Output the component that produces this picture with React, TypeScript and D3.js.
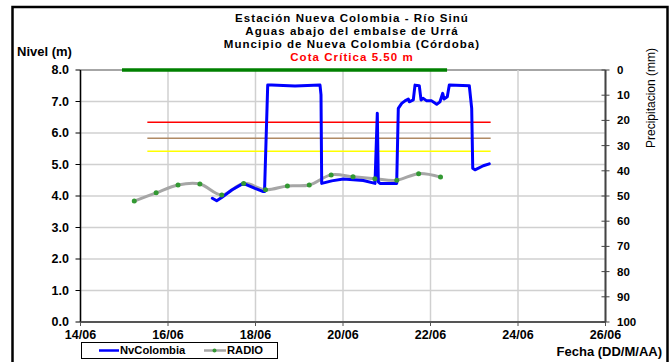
import React from "react";
import * as d3 from "d3";

const YEAR = "2012";
const xTickLabels = ["14/06", "16/06", "18/06", "20/06", "22/06", "24/06", "26/06"];
const levelTicks = [0, 1, 2, 3, 4, 5, 6, 7, 8];
const precipTicks = [0, 10, 20, 30, 40, 50, 60, 70, 80, 90, 100];

const titleLines = [
  "Estación Nueva Colombia  - Río Sinú",
  "Aguas abajo del embalse de Urrá",
  "Muncipio de Nueva Colombia  (Córdoba)",
];
const criticalLabel = "Cota Crítica 5.50 m";

// NvColombia level series (date, m)
const nvTimes = [
  "17/06 00:19", "17/06 02:43", "17/06 05:27", "17/06 10:57", "17/06 17:18", "17/06 23:44",
  "18/06 04:16", "18/06 04:57", "18/06 06:42", "18/06 08:53", "18/06 21:40", "19/06 11:23",
  "19/06 11:56", "19/06 12:19", "19/06 17:48", "20/06 00:10", "20/06 11:08", "20/06 17:33",
  "20/06 18:49", "20/06 19:22", "20/06 20:18", "21/06 05:27", "21/06 06:20", "21/06 08:12",
  "21/06 10:00", "21/06 11:50", "21/06 12:22", "21/06 14:34", "21/06 15:30", "21/06 17:51",
  "21/06 18:48", "21/06 20:02", "21/06 21:55", "22/06 00:39", "22/06 03:24", "22/06 05:12",
  "22/06 06:42", "22/06 07:25", "22/06 09:13", "22/06 10:19", "22/06 21:17", "22/06 22:36",
  "22/06 23:10", "23/06 00:24", "23/06 04:58", "23/06 08:15",
];
const nvValues = [
  3.93, 3.85, 3.95, 4.19, 4.40, 4.24,
  4.14, 4.14, 7.52, 7.52, 7.49, 7.52,
  7.21, 4.40, 4.48, 4.54, 4.49, 4.40,
  6.63, 4.45, 4.40, 4.40, 6.78, 6.94,
  7.02, 7.08, 6.99, 7.05, 7.52, 7.50,
  7.05, 7.10, 7.02, 7.02, 6.91, 6.99,
  7.26, 7.08, 7.15, 7.52, 7.50, 6.78,
  4.88, 4.83, 4.96, 5.02,
];

// RADIO series
const radioTimes = [
  "15/06 05:30", "15/06 17:30", "16/06 05:30", "16/06 17:30", "17/06 05:30",
  "17/06 17:30", "18/06 05:30", "18/06 17:30", "19/06 05:30", "19/06 17:30",
  "20/06 05:30", "20/06 17:30", "21/06 05:30", "21/06 17:30", "22/06 05:30",
];
const radioValues = [3.84, 4.10, 4.35, 4.38, 4.03, 4.40, 4.20, 4.32, 4.35, 4.67, 4.61, 4.55, 4.50, 4.71, 4.60];

// Precipitation (mm)
const precipTimes = ["14/06 22:45", "16/06 12:00", "18/06 12:00", "20/06 12:00", "22/06 09:05"];
const precipValues = [0, 0, 0, 0, 0];

// Reference levels
const refStart = "15/06 12:40";
const refEnd = "23/06 09:00";
const refLevels = [6.34, 5.83, 5.42];
const refColors = ["#ff0000", "#b08a64", "#ffff00"];

const parse = d3.timeParse("%d/%m/%Y %H:%M");
const pd = (s: string) => parse(s.slice(0, 5) + "/" + YEAR + " " + s.slice(6)) as Date;
const pday = (s: string) => parse(s + "/" + YEAR + " 00:00") as Date;

const FONT = "'Liberation Sans', Arial, sans-serif";

export default function App() {
  const L = 80.5, R = 605.5, T = 70, B = 322;
  const x = d3.scaleTime().domain([pday(xTickLabels[0]), pday(xTickLabels[xTickLabels.length - 1])]).range([L, R]);
  const y = d3.scaleLinear().domain([0, 8]).range([B, T]);
  const yp = d3.scaleLinear().domain([0, 100]).range([T, B]);

  const nv = nvTimes.map((t, i) => ({ d: pd(t), v: nvValues[i] }));
  const radio = radioTimes.map((t, i) => ({ d: pd(t), v: radioValues[i] }));
  const precip = precipTimes.map((t, i) => ({ d: pd(t), v: precipValues[i] }));

  const lineNv = d3.line<{ d: Date; v: number }>().x((p) => x(p.d)).y((p) => y(p.v));
  const lineRadio = d3.line<{ d: Date; v: number }>().x((p) => x(p.d)).y((p) => y(p.v)).curve(d3.curveCatmullRom);
  const linePrecip = d3.line<{ d: Date; v: number }>().x((p) => x(p.d)).y((p) => yp(p.v));

  const cx = 352;

  return (
    <svg width={672} height={362} style={{ position: "absolute", left: 0, top: 0, background: "#fff" }} fontFamily={FONT}>
      <rect x={12.5} y={7} width={655} height={370} fill="none" stroke="#000" strokeWidth={2.5} />
      {/* titles */}
      {titleLines.map((t, i) => (
        <text key={i} x={cx} y={22 + i * 13} textAnchor="middle" fontSize={11.5} letterSpacing={1.05} fontWeight="bold" fill="#000">{t}</text>
      ))}
      <text x={cx} y={61} textAnchor="middle" fontSize={11.5} letterSpacing={1.05} fontWeight="bold" fill="#ff0000">{criticalLabel}</text>
      <text x={17} y={56} fontSize={13} fontWeight="bold" fill="#000">Nivel (m)</text>
      <text transform={`translate(655,98) rotate(-90)`} textAnchor="middle" fontSize={12} fill="#000">Precipitacion (mm)</text>

      {/* grid */}
      {levelTicks.map((t) => (
        <line key={"gy" + t} x1={L} x2={R} y1={y(t)} y2={y(t)} stroke={t === 8 ? "#a6a6a6" : "#d0d0d0"} strokeWidth={t === 8 ? 2 : 1.5} />
      ))}
      {xTickLabels.map((s) => (
        <line key={"gx" + s} x1={x(pday(s))} x2={x(pday(s))} y1={T} y2={B} stroke="#d0d0d0" strokeWidth={1.5} />
      ))}

      {/* reference lines */}
      {refLevels.map((v, i) => (
        <line key={"ref" + i} x1={x(pd(refStart))} x2={x(pd(refEnd))} y1={y(v)} y2={y(v)} stroke={refColors[i]} strokeWidth={1.5} />
      ))}

      {/* axes */}
      <line x1={L} x2={L} y1={T} y2={B} stroke="#000" strokeWidth={1.5} />
      {levelTicks.map((t) => (
        <g key={"yl" + t}>
          <line x1={L - 5} x2={L} y1={y(t)} y2={y(t)} stroke="#000" strokeWidth={1} />
          <text x={69} y={y(t)} dy="0.35em" textAnchor="end" fontSize={12.5} fontWeight="bold">{t.toFixed(1)}</text>
        </g>
      ))}
      <line x1={L} x2={R} y1={B} y2={B} stroke="#555" strokeWidth={2} />
      {xTickLabels.map((s) => (
        <g key={"xl" + s}>
          <line x1={x(pday(s))} x2={x(pday(s))} y1={B} y2={B + 4} stroke="#555" strokeWidth={1} />
          <text x={x(pday(s))} y={334.5} dy="0.35em" textAnchor="middle" fontSize={12.5} fontWeight="bold">{s}</text>
        </g>
      ))}
      <line x1={R} x2={R} y1={T} y2={B} stroke="#444" strokeWidth={2} />
      {precipTicks.map((t) => (
        <g key={"yr" + t}>
          <line x1={R - 4} x2={R + 4} y1={yp(t)} y2={yp(t)} stroke="#444" strokeWidth={1} />
          <text x={617} y={yp(t)} dy="0.35em" textAnchor="start" fontSize={11.5} fontWeight="bold">{t}</text>
        </g>
      ))}

      {/* series */}
      <path d={linePrecip(precip) || ""} fill="none" stroke="#008000" strokeWidth={3.5} />
      <path d={lineRadio(radio) || ""} fill="none" stroke="#a6a6a6" strokeWidth={3} strokeLinejoin="round" />
      <path d={lineNv(nv) || ""} fill="none" stroke="#0000ff" strokeWidth={3} strokeLinejoin="round" strokeLinecap="round" />
      {radio.map((p, i) => (
        <circle key={"rd" + i} cx={x(p.d)} cy={y(p.v)} r={2.5} fill="#339933" />
      ))}

      {/* legend */}
      <rect x={81.5} y={342.5} width={196} height={16} fill="#fff" stroke="#000" strokeWidth={1} />
      <line x1={99} x2={119} y1={350.5} y2={350.5} stroke="#0000ff" strokeWidth={2.5} />
      <text x={120} y={350.5} dy="0.35em" fontSize={11.2} fontWeight="bold">NvColombia</text>
      <line x1={204} x2={226} y1={350.5} y2={350.5} stroke="#a6a6a6" strokeWidth={2.5} />
      <circle cx={214.5} cy={350.5} r={2} fill="#339933" />
      <text x={227} y={350.5} dy="0.35em" fontSize={11.2} fontWeight="bold">RADIO</text>

      <text x={662} y={351} dy="0.35em" textAnchor="end" fontSize={13} fontWeight="bold">Fecha (DD/M/AA)</text>
    </svg>
  );
}
